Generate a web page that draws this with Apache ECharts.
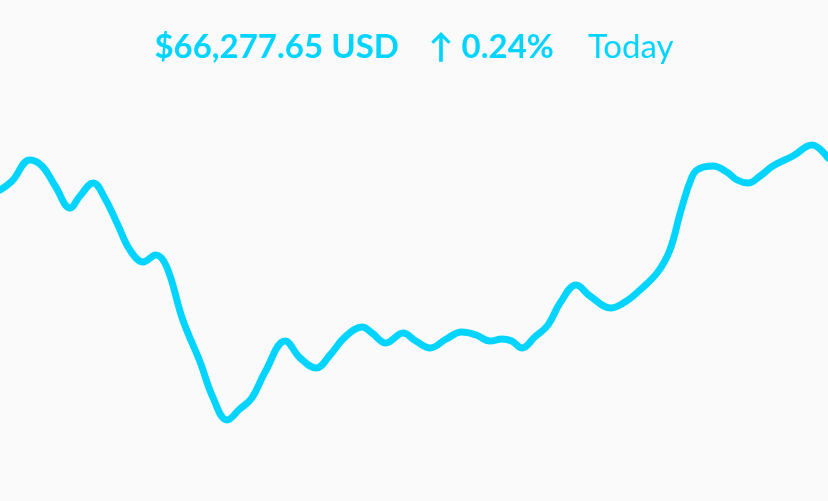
<!DOCTYPE html>
<html>
<head>
<meta charset="utf-8">
<script src="https://cdn.jsdelivr.net/npm/echarts@6/dist/echarts.min.js"></script>
<style>
html,body{margin:0;padding:0;background:#fafafa;}
#chart{width:828px;height:501px;}
</style>
</head>
<body>
<div id="chart"></div>
<script>
const priceLabel = '$66,277.65 USD';
const changeLabel = '↑ 0.24%';
const periodLabel = 'Today';

// minutes since midnight
const minutes = [
  0, 21, 52, 73, 96, 122, 139, 162, 183, 205, 226, 249, 271, 290, 318, 348,
  370, 395, 417, 438, 461, 496, 522, 550, 574, 600, 630, 647, 671, 701, 723,
  748, 776, 803, 828, 852, 873, 890, 908, 930, 953, 974, 1002, 1026, 1063, 1087, 1113,
  1144, 1165, 1183, 1200, 1212, 1240, 1264, 1282, 1301, 1322, 1344, 1379, 1412, 1440
];

// price in USD
const prices = [
  66117.65, 66162.65, 66267.65, 66237.65, 66137.65, 66027.65, 66087.65, 66152.65,
  66072.65, 65942.65, 65817.65, 65757.65, 65792.65, 65732.65, 65467.65, 65257.65,
  65082.65, 64967.65, 65022.65, 65077.65, 65207.65, 65362.65, 65277.65,
  65227.65, 65292.65, 65382.65, 65432.65, 65402.65, 65352.65, 65402.65, 65362.65,
  65327.65, 65372.65, 65407.65, 65392.65, 65362.65, 65372.65, 65362.65, 65327.65,
  65382.65, 65442.65, 65552.65, 65642.65, 65587.65, 65527.65, 65557.65, 65617.65,
  65707.65, 65817.65, 66002.65, 66157.65, 66217.65, 66237.65, 66207.65, 66167.65,
  66152.65, 66187.65, 66237.65, 66287.65, 66342.65, 66277.65
];

const series = minutes.map((m, i) => [m, prices[i]]);

const chart = echarts.init(document.getElementById('chart'));
chart.setOption({
  backgroundColor: '#fafafa',
  animation: false,
  title: {
    text: '{a|' + priceLabel + '}{b|' + changeLabel + '}{c|' + periodLabel + '}',
    left: 'center',
    top: 26,
    textStyle: {
      rich: {
        a: { fontFamily: 'Lato', fontWeight: 'bold', fontSize: 33, color: '#00d4ff', padding: [0, 30, 0, 0] },
        b: { fontFamily: 'Lato', fontWeight: 'bold', fontSize: 33, color: '#00d4ff', padding: [0, 34, 0, 0] },
        c: { fontFamily: 'Lato', fontWeight: 'normal', fontSize: 33, color: '#00d4ff' }
      }
    }
  },
  grid: { left: 0, right: 0, top: 0, bottom: 0 },
  xAxis: { type: 'value', min: 0, max: 1440, show: false },
  yAxis: { type: 'value', min: 64562.65, max: 67067.65, show: false },
  series: [{
    type: 'line',
    data: series,
    smooth: 0.4,
    showSymbol: false,
    lineStyle: { color: '#00d4ff', width: 7, cap: 'round', join: 'round' }
  }]
});
</script>
</body>
</html>
